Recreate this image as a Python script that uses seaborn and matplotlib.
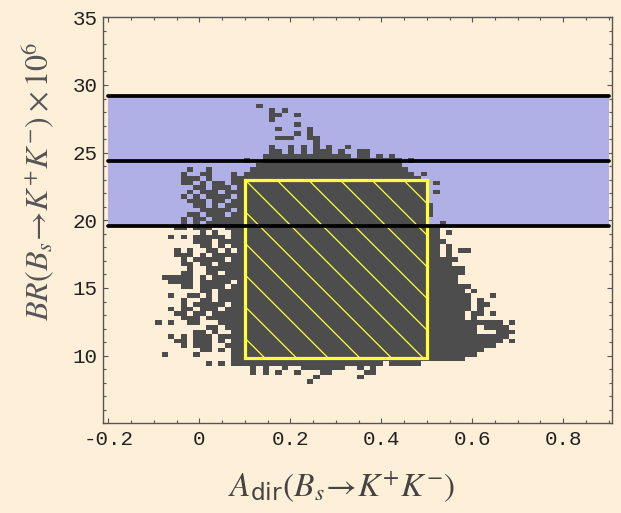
import matplotlib
matplotlib.use("Agg")
import matplotlib.pyplot as plt
from matplotlib.colors import ListedColormap
from matplotlib.patches import Rectangle
from matplotlib.ticker import MultipleLocator
import numpy as np
import seaborn as sns

# ---- scan grid of the parameter scan (cell size in A_dir and BR) ----
ADIR_START = -0.097
ADIR_STEP = 1.0 / 72.0
BR_START = 7.93
BR_STEP = 1.0 / 3.0
N_COLS = 57
N_ROWS = 62

# occupied cells per BR row (row 0 at the bottom), given as column ranges
OCCUPIED = [
    "24",
    "25,32",
    "15,17,19,22,26-27,33-34",
    "15,17,20,23-29,32,34",
    "8,10,12-35,37-41",
    "12-48",
    "1,6,12-50",
    "7-8,10,12-51",
    "4,6-8,11-53",
    "3-4,6-8,10,12-54,56",
    "2,4,6-8,10-55",
    "6-7,9,12-50,54-56",
    "8-9,11-50,52-55",
    "0,2,5-6,10-54,56",
    "4-6,8-48,50",
    "3-4,6-7,9-48,50-51,53",
    "2,4-5,7-9,11-49,51",
    "4,6-10,12-49,51-52",
    "4,7-8,10-49,51",
    "2,5-6,8,10-49,53",
    "7-8,10-48,50",
    "4-5,7-10,12-49",
    "2-5,7-11,13-47",
    "1-5,7,9-47",
    "4-5,8-9,11-48",
    "5,8-48",
    "4-5,7-8,10-46",
    "4,6-10,12-47",
    "3-5,7,9-44,46",
    "3,5,8-9,11,13-44,46,48-49",
    "7-8,10,12-44,46",
    "6-8,10-45",
    "2,4,6-10,12-44",
    "7,9,12-44,46",
    "3-4,6-8,11-44",
    "4,6,8-42,45",
    "4,6-7,9-42",
    "5-6,8-10,12-43",
    "7-11,13-43",
    "6-7,9,11-43",
    "5-7,9-10,12-42",
    "4,6,8-11,13-42",
    "5,7-9,11-42,44",
    "6-7,9-11,13-42",
    "4-5,7,9-10,12-42,44",
    "4-6,8,12-41",
    "4,7-8,12,14-40,42",
    "5,8,15-39",
    "16-38",
    "14,17-38,40",
    "17-30,32-33,35,37",
    "18-19,21,23,25-27,29,32-33",
    "18,21,23,25,27,30",
    "25",
    "19-21,24-25",
    "22,24",
    "19,24",
    "22",
    "18",
    "18-19,22",
    "18,20",
    "16",
]

# experimental band and its central value / edges
BAND_LOW, BAND_HIGH = 19.6, 29.2
BAND_LINES = [19.6, 24.4, 29.2]
BAND_X = [-0.2, 0.9]

# highlighted region in (A_dir, BR)
BOX_X = (0.1, 0.5)
BOX_Y = (9.8, 23.0)

X_TICKS = [-0.2, 0.0, 0.2, 0.4, 0.6, 0.8]
X_TICK_LABELS = ["-0.2", "0", "0.2", "0.4", "0.6", "0.8"]
Y_TICKS = [10, 15, 20, 25, 30, 35]
Y_TICK_LABELS = ["10", "15", "20", "25", "30", "35"]

BG = "#feefd8"
CELL = "#4d4d4d"
BAND_COLOR = "#b0b0e6"
YELLOW = "#ffff3c"
FRAME = "#555555"

sns.set_theme(style="ticks")
plt.rcParams["mathtext.fontset"] = "stix"
plt.rcParams["font.family"] = ["DejaVu Sans"]

# decode the occupied cells into cell centres
adir_vals, br_vals = [], []
for j, row in enumerate(OCCUPIED):
    for part in row.split(","):
        if "-" in part:
            a, b = (int(v) for v in part.split("-"))
        else:
            a = b = int(part)
        for i in range(a, b + 1):
            adir_vals.append(ADIR_START + (i + 0.5) * ADIR_STEP)
            br_vals.append(BR_START + (j + 0.5) * BR_STEP)

x_edges = ADIR_START + ADIR_STEP * np.arange(N_COLS + 1)
y_edges = BR_START + BR_STEP * np.arange(N_ROWS + 1)

W, H, DPI = 621, 513, 100
fig = plt.figure(figsize=(W / DPI, H / DPI), dpi=DPI, facecolor=BG)
left, right, top, bottom = 103, 612.3, 17.3, 423.3
ax = fig.add_axes([left / W, (H - bottom) / H, (right - left) / W, (bottom - top) / H])
ax.set_facecolor(BG)

# blue experimental band
ax.fill_between(BAND_X, BAND_LOW, BAND_HIGH, color=BAND_COLOR, linewidth=0, zorder=1)

# scan points as a binned occupancy map
sns.histplot(x=adir_vals, y=br_vals, bins=[x_edges, y_edges],
             cmap=ListedColormap([CELL]), cbar=False, ax=ax, zorder=2)

ax.set_xlim(-0.212, 0.908)
ax.set_ylim(5, 35)

# highlighted box with diagonal hatching
box = Rectangle((BOX_X[0], BOX_Y[0]), BOX_X[1] - BOX_X[0], BOX_Y[1] - BOX_Y[0],
                fill=False, edgecolor=YELLOW, linewidth=2.3, zorder=4)
ax.add_patch(box)
clip = Rectangle((BOX_X[0], BOX_Y[0]), BOX_X[1] - BOX_X[0], BOX_Y[1] - BOX_Y[0],
                 transform=ax.transData, fill=False, visible=False)
ax.add_patch(clip)

fig.canvas.draw()
to_px = ax.transData
to_data = ax.transData.inverted()
tlx, tly = to_px.transform((BOX_X[0], BOX_Y[1]))
brx, bry = to_px.transform((BOX_X[1], BOX_Y[0]))
box_w, box_h = brx - tlx, tly - bry
step = 22.8 * DPI / 72.0
reach = box_w + box_h
for k in range(-int(np.ceil(box_h / step)), int(np.ceil(box_w / step)) + 1):
    sx, sy = tlx + k * step, tly
    p0 = to_data.transform((sx - reach, sy + reach))
    p1 = to_data.transform((sx + reach, sy - reach))
    ln, = ax.plot([p0[0], p1[0]], [p0[1], p1[1]], color=YELLOW, linewidth=0.9, zorder=3.5)
    ln.set_clip_path(clip)

# band edges and central value
for yv in BAND_LINES:
    sns.lineplot(x=BAND_X, y=[yv, yv], color="black", linewidth=2.7, ax=ax, zorder=5)

ax.set_xlim(-0.212, 0.908)
ax.set_ylim(5, 35)

# frame and ticks
for sp in ax.spines.values():
    sp.set_visible(True)
    sp.set_color(FRAME)
    sp.set_linewidth(1.0)
ax.set_xticks(X_TICKS, labels=X_TICK_LABELS)
ax.set_yticks(Y_TICKS, labels=Y_TICK_LABELS)
ax.xaxis.set_minor_locator(MultipleLocator(0.05))
ax.yaxis.set_minor_locator(MultipleLocator(1))
ax.tick_params(which="both", direction="in", top=True, right=True,
               color=FRAME, width=0.8, labelcolor="#222222",
               labelsize=15, labelfontfamily="Liberation Mono")
ax.tick_params(which="major", length=3.5)
ax.tick_params(which="minor", length=2.0)
ax.tick_params(axis="x", pad=5)
ax.tick_params(axis="y", pad=4)

ax.set_xlabel(r"$A_{\mathregular{dir}}(B_s\!\rightarrow\! K^{+}K^{-})$", fontsize=24, color="#444444")
ax.set_ylabel(r"$BR(B_s\!\rightarrow\! K^{+}K^{-})\times 10^{6}$", fontsize=23, color="#555555")
ax.xaxis.set_label_coords((342 - left) / (right - left), -(487 - bottom) / (bottom - top))
ax.xaxis.label.set_va("center")
ax.yaxis.set_label_coords((37.6 - left) / (right - left), (bottom - 181.7) / (bottom - top))
ax.yaxis.label.set_va("center")

fig.savefig("out.png", dpi=DPI, facecolor=BG)
